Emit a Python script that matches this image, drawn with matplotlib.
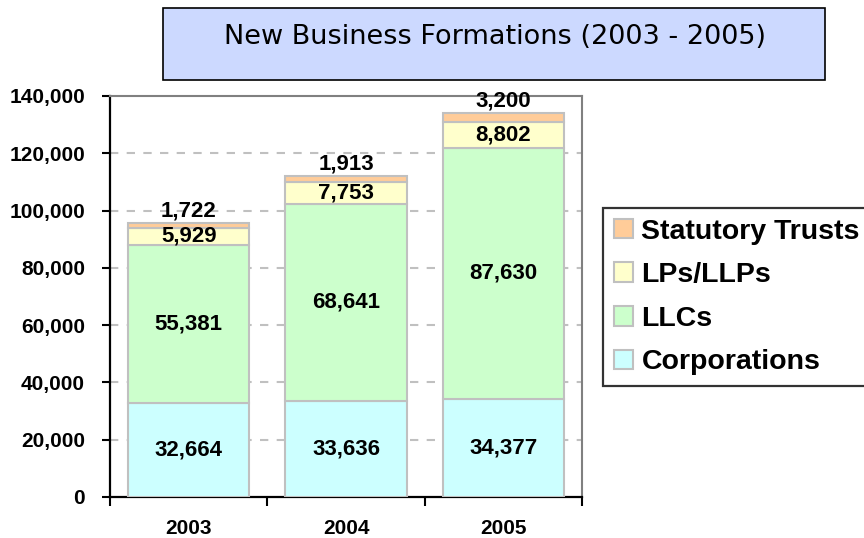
import matplotlib
matplotlib.use("Agg")
import matplotlib.pyplot as plt
from matplotlib.patches import Rectangle
import numpy as np

years = ["2003", "2004", "2005"]
corporations = [32664, 33636, 34377]
llcs = [55381, 68641, 87630]
lps_llps = [5929, 7753, 8802]
statutory_trusts = [1722, 1913, 3200]
series_names = ["Corporations", "LLCs", "LPs/LLPs", "Statutory Trusts"]
series_colors = ["#CCFFFF", "#CCFFCC", "#FFFFCC", "#FFCC99"]
yticks = [0, 20000, 40000, 60000, 80000, 100000, 120000, 140000]
title = "New Business Formations (2003 - 2005)"

plt.rcParams['font.family'] = ['Liberation Sans', 'DejaVu Sans']

fig = plt.figure(figsize=(8.64, 5.38), dpi=100)
ax = fig.add_axes([110/864, 41/538, 472/864, 401/538])

x = np.arange(len(years))
series = [corporations, llcs, lps_llps, statutory_trusts]
bottom = np.zeros(len(years))
containers = []
for vals, name, col in zip(series, series_names, series_colors):
    c = ax.bar(x, vals, width=0.77, bottom=bottom, color=col, edgecolor="#C0C0C0",
               linewidth=1.5, label=name, zorder=3)
    containers.append(c)
    bottom = bottom + np.array(vals)

# labels
fmt = lambda v: f"{v:,}"
base = np.zeros(len(years))
for i, vals in enumerate(series):
    for j, v in enumerate(vals):
        if i < 3:
            ax.text(x[j], base[j] + v / 2, fmt(v), ha="center", va="center",
                    fontsize=16, fontweight="bold", zorder=5)
        else:
            ax.annotate(fmt(v), (x[j], base[j] + v), xytext=(0, 1), textcoords="offset points",
                        ha="center", va="bottom", fontsize=16, fontweight="bold", zorder=5)
    base = base + np.array(vals)

ax.set_xlim(-0.5, 2.5)
ax.set_ylim(0, 140000)
ax.set_yticks(yticks)
ax.set_yticklabels([f"{t:,}" for t in yticks], fontsize=15, fontweight="bold")
ax.tick_params(axis="y", direction="out", length=6, width=1.5, pad=12)

ax.set_xticks(x)
ax.set_xticklabels(years, fontsize=15, fontweight="bold")
ax.tick_params(axis="x", which="major", length=0, pad=16)
ax.set_xticks([-0.5, 0.5, 1.5, 2.5], minor=True)
ax.tick_params(axis="x", which="minor", direction="out", length=6.5, width=1.5)

for t in yticks[1:-1]:
    ax.axhline(t, color="#C0C0C0", linewidth=1.5, linestyle=(0, (4, 4)), zorder=1)

ax.spines["left"].set_linewidth(1.6)
ax.spines["bottom"].set_linewidth(1.6)
ax.spines["left"].set_color("black")
ax.spines["bottom"].set_color("black")
for s in ["top", "right"]:
    ax.spines[s].set_color("#808080")
    ax.spines[s].set_linewidth(1.5)

# title box
fig.patches.append(Rectangle((163/864, (538-80)/538), (825-163)/864, 72/538,
                             transform=fig.transFigure, facecolor="#CCD9FF",
                             edgecolor="black", linewidth=1.2, zorder=1))
fig.text(495/864, (538-37)/538, title, ha="center", va="center", fontsize=19.5,
         family="DejaVu Sans", zorder=2)

handles = containers[::-1]
labels = series_names[::-1]
leg = fig.legend(handles, labels, loc="upper left", bbox_to_anchor=(603/864, (538-208)/538),
                 bbox_transform=fig.transFigure, borderaxespad=0, frameon=True,
                 fancybox=False, edgecolor="black", prop={"size": 20.5, "weight": "bold"},
                 handlelength=0.68, handleheight=0.68, handletextpad=0.3,
                 labelspacing=0.62, borderpad=0.37)
leg.get_frame().set_linewidth(1.6)

fig.savefig("out.png", dpi=100)
